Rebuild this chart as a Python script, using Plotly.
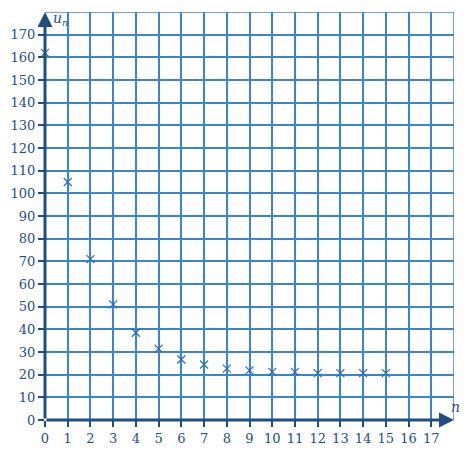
import plotly.graph_objects as go

# sequence values
n_vals = list(range(16))
u_vals = [162, 105, 71, 51, 38.5, 31.5, 26.7, 24.5, 22.7, 21.9, 21.2, 21.2, 20.7, 20.7, 20.7, 20.7]

x_ticks = list(range(18))
y_ticks = list(range(0, 180, 10))
X_MAX, Y_MAX = 18, 180

AXIS = "#1f4f82"
GRID = "#3a84d0"
TEXT = "#1d4f8c"
FONT = "DejaVu Serif"

fig = go.Figure()
fig.add_trace(go.Scatter(
    x=n_vals, y=u_vals, mode="markers",
    marker=dict(symbol="x-thin", size=8, line=dict(width=1.2, color="#2a6db3")),
    showlegend=False, cliponaxis=False,
))

# outer grid border (right + top)
fig.add_shape(type="line", x0=X_MAX, x1=X_MAX, y0=0, y1=Y_MAX, line=dict(color=GRID, width=1.5), layer="below")
fig.add_shape(type="line", x0=0, x1=X_MAX, y0=Y_MAX, y1=Y_MAX, line=dict(color=GRID, width=1.5), layer="below")

# axes drawn as arrows
fig.add_annotation(x=X_MAX, y=0, ax=0, ay=0, xref="x", yref="y", axref="x", ayref="y",
                   text="", showarrow=True, arrowhead=2, arrowsize=1, arrowwidth=3, arrowcolor=AXIS)
fig.add_annotation(x=0, y=Y_MAX, ax=0, ay=0, xref="x", yref="y", axref="x", ayref="y",
                   text="", showarrow=True, arrowhead=2, arrowsize=1, arrowwidth=3, arrowcolor=AXIS)

fig.add_annotation(x=0, y=Y_MAX, xref="x", yref="y", text="<i>u<sub>n</sub></i>", showarrow=False,
                   xanchor="left", yanchor="top", xshift=6, yshift=4,
                   font=dict(family=FONT, size=14, color=TEXT))
fig.add_annotation(x=X_MAX, y=0, xref="x", yref="y", text="<i>n</i>", showarrow=False,
                   xanchor="center", yanchor="bottom", xshift=1, yshift=3,
                   font=dict(family=FONT, size=14, color=TEXT))

# page body has an 8px margin, so the figure is shrunk to fit the 470x455 window
fig.update_layout(
    width=462, height=447,
    margin=dict(l=37, r=16, t=4, b=35),
    paper_bgcolor="white", plot_bgcolor="white",
    font=dict(family=FONT, size=13, color=TEXT),
    xaxis=dict(range=[0, X_MAX], tickvals=x_ticks, showgrid=True, gridcolor=GRID, gridwidth=1.5,
               zeroline=False, showline=False, ticks="outside", ticklen=6, tickwidth=1.5,
               tickcolor=AXIS, fixedrange=True, automargin=False),
    yaxis=dict(range=[0, Y_MAX], tickvals=y_ticks, showgrid=True, gridcolor=GRID, gridwidth=1.5,
               zeroline=False, showline=False, ticks="outside", ticklen=6, tickwidth=1.5,
               tickcolor=AXIS, fixedrange=True, automargin=False),
)

fig.write_html("out.html")
